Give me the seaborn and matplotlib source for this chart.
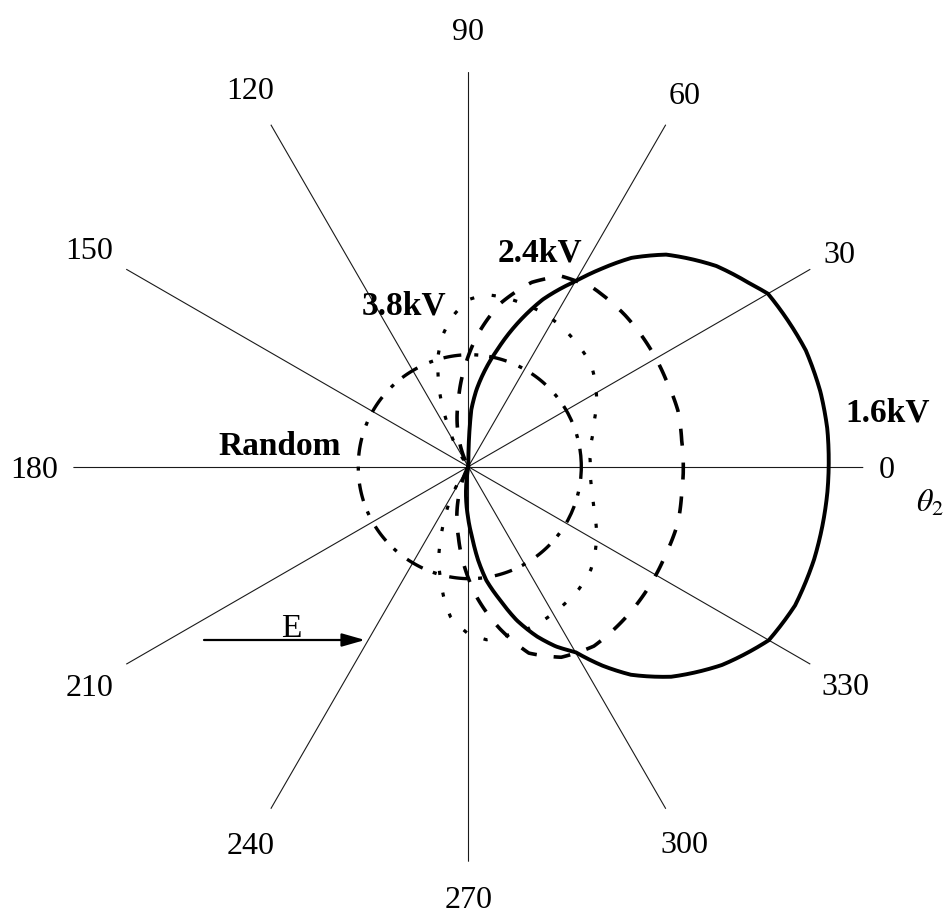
import numpy as np
import pandas as pd
import matplotlib
matplotlib.use("Agg")
import matplotlib.pyplot as plt
import seaborn as sns

# ---------------- data ----------------
angle_ticks = [0, 30, 60, 90, 120, 150, 180, 210, 240, 270, 300, 330]
angle_labels = ["0", "30", "60", "90", "120", "150", "180", "210", "240", "270", "300", "330"]

# 1.6 kV (solid)
theta_16 = [-100, -95, -91, -87, -84, -81, -76.6, -72.5, -68, -64,
            -60, -56, -52, -46, -38, -30, -23, -15, -4, 6,
            12, 19, 24, 30, 33, 39, 47, 52, 56, 60,
            66, 71, 76, 80, 84, 87, 88.5, 90]
r_16 = [0.00, 0.27, 0.47, 0.70, 0.94, 1.15, 1.37, 1.61, 1.83, 2.00,
        2.14, 2.40, 2.64, 2.92, 3.22, 3.47, 3.55, 3.58, 3.60, 3.61,
        3.60, 3.57, 3.52, 3.46, 3.36, 3.19, 2.90, 2.65, 2.39, 2.14,
        1.83, 1.52, 1.21, 0.99, 0.77, 0.57, 0.30, 0.00]

# 2.4 kV (dashed)
theta_24 = [-118, -113, -107, -98, -92, -86, -79, -72, -64, -55,
            -44, -34, -24, -15, -7, 0, 7, 15, 24, 34,
            44, 55, 64, 71, 79, 86, 92, 98.5, 107, 113, 118]
r_24 = [0.00, 0.15, 0.35, 0.71, 1.01, 1.32, 1.65, 1.96, 2.12, 2.19,
        2.18, 2.17, 2.16, 2.17, 2.15, 2.15, 2.15, 2.17, 2.16, 2.17,
        2.18, 2.18, 2.12, 1.95, 1.66, 1.32, 1.00, 0.67, 0.35, 0.15, 0.00]

# 3.8 kV (dotted)
theta_38 = [-126, -122, -114, -110.5, -107.7, -104, -100.8, -96.8, -90.5, -84,
            -78, -71, -64, -56, -48, -40, -34, -27, -20, -12,
            -4, 0, 4, 12, 20, 27, 34, 40, 48, 56,
            64, 71, 78, 84, 90, 96, 101, 105, 108, 111,
            114, 117, 122, 126]
r_38 = [0.00, 0.21, 0.60, 0.80, 0.98, 1.15, 1.32, 1.51, 1.66, 1.74,
        1.73, 1.73, 1.71, 1.68, 1.65, 1.60, 1.53, 1.44, 1.34, 1.26,
        1.22, 1.22, 1.22, 1.26, 1.34, 1.44, 1.53, 1.60, 1.64, 1.68,
        1.71, 1.72, 1.73, 1.73, 1.67, 1.51, 1.34, 1.16, 0.98, 0.80,
        0.60, 0.41, 0.21, 0.00]

# Random (dash-dot)
theta_rand = [0, 30, 60, 90, 120, 150, 180, 210, 240, 270, 300, 330, 360]
r_rand = [1.13, 1.13, 1.125, 1.12, 1.11, 1.105, 1.10, 1.105, 1.11, 1.12, 1.125, 1.13, 1.13]

series_names = ["1.6kV", "2.4kV", "3.8kV", "Random"]

# ---------------- style ----------------
sns.set_theme(style="white")
plt.rcParams["font.family"] = ["Liberation Serif", "DejaVu Serif"]
plt.rcParams["mathtext.fontset"] = "stix"

W, H = 948, 913
fig = plt.figure(figsize=(W / 100, H / 100), dpi=100)
fig.patch.set_facecolor("white")
cx, cy, R = 468.3, 466.7, 395.0
ax = fig.add_axes([(cx - R) / W, (H - cy - R) / H, 2 * R / W, 2 * R / H],
                  projection="polar")
ax.set_facecolor("none")

styles = {
    "1.6kV": dict(linewidth=2.8, linestyle="-"),
    "2.4kV": dict(linewidth=2.6, linestyle=(0, (4.7, 4.7)), dash_capstyle="butt"),
    "3.8kV": dict(linewidth=2.3, linestyle=(0, (1.3, 5.6)), dash_capstyle="butt"),
    "Random": dict(linewidth=2.4, linestyle=(0, (5.4, 3.3, 1.2, 3.9)), dash_capstyle="butt"),
}
data = {
    "1.6kV": (theta_16, r_16),
    "2.4kV": (theta_24, r_24),
    "3.8kV": (theta_38, r_38),
    "Random": (theta_rand, r_rand),
}
for name in series_names:
    th, rr = data[name]
    df = pd.DataFrame({"theta": np.deg2rad(th), "r": rr})
    sns.lineplot(data=df, x="theta", y="r", sort=False, estimator=None, ax=ax,
                 color="black", legend=False, **styles[name])

# let the polar transform draw each segment as a curve in (theta, r)
for line in ax.lines:
    line.get_path()._interpolation_steps = 40

ax.set_xticks(np.deg2rad(angle_ticks))
ax.set_xticklabels([])
ax.set_yticks([])
ax.set_ylim(0, 3.95)
ax.xaxis.grid(True, color="#1a1a1a", linewidth=0.8)
ax.yaxis.grid(False)
ax.spines["polar"].set_visible(False)
ax.set_xlabel("")
ax.set_ylabel("")

label_r = [4.18, 4.29, 4.32, 4.38, 4.37, 4.38, 4.34, 4.37, 4.35, 4.30, 4.33, 4.35]
for a, lab, rl in zip(angle_ticks, angle_labels, label_r):
    ax.text(np.deg2rad(a), rl, lab, ha="center", va="center_baseline",
            fontsize=23, clip_on=False, color="black")

# series labels (figure pixel positions)
label_pos = {"1.6kV": (888, 409), "2.4kV": (540, 249.5),
             "3.8kV": (404, 302.5), "Random": (280, 442.5)}
for name in series_names:
    x, y = label_pos[name]
    fig.text(x / W, 1 - y / H, name, ha="center", va="center_baseline",
             fontsize=24, fontweight="bold", color="black")

# theta_2 axis label
fig.text(916 / W, 1 - 500 / H, r"$\theta_2$", ha="left", va="center_baseline",
         fontsize=23, color="black")

# field direction arrow
fig.text(291 / W, 1 - 625 / H, "E", ha="center", va="center_baseline",
         fontsize=24, color="black")
ax.annotate("", xy=(365 / W, 1 - 640 / H), xytext=(204 / W, 1 - 640 / H),
            xycoords="figure fraction", textcoords="figure fraction",
            arrowprops=dict(arrowstyle="-|>,head_length=0.7,head_width=0.2",
                            color="black", lw=1.6, mutation_scale=20,
                            shrinkA=0, shrinkB=0))

fig.savefig("out.png", dpi=100, facecolor="white")
